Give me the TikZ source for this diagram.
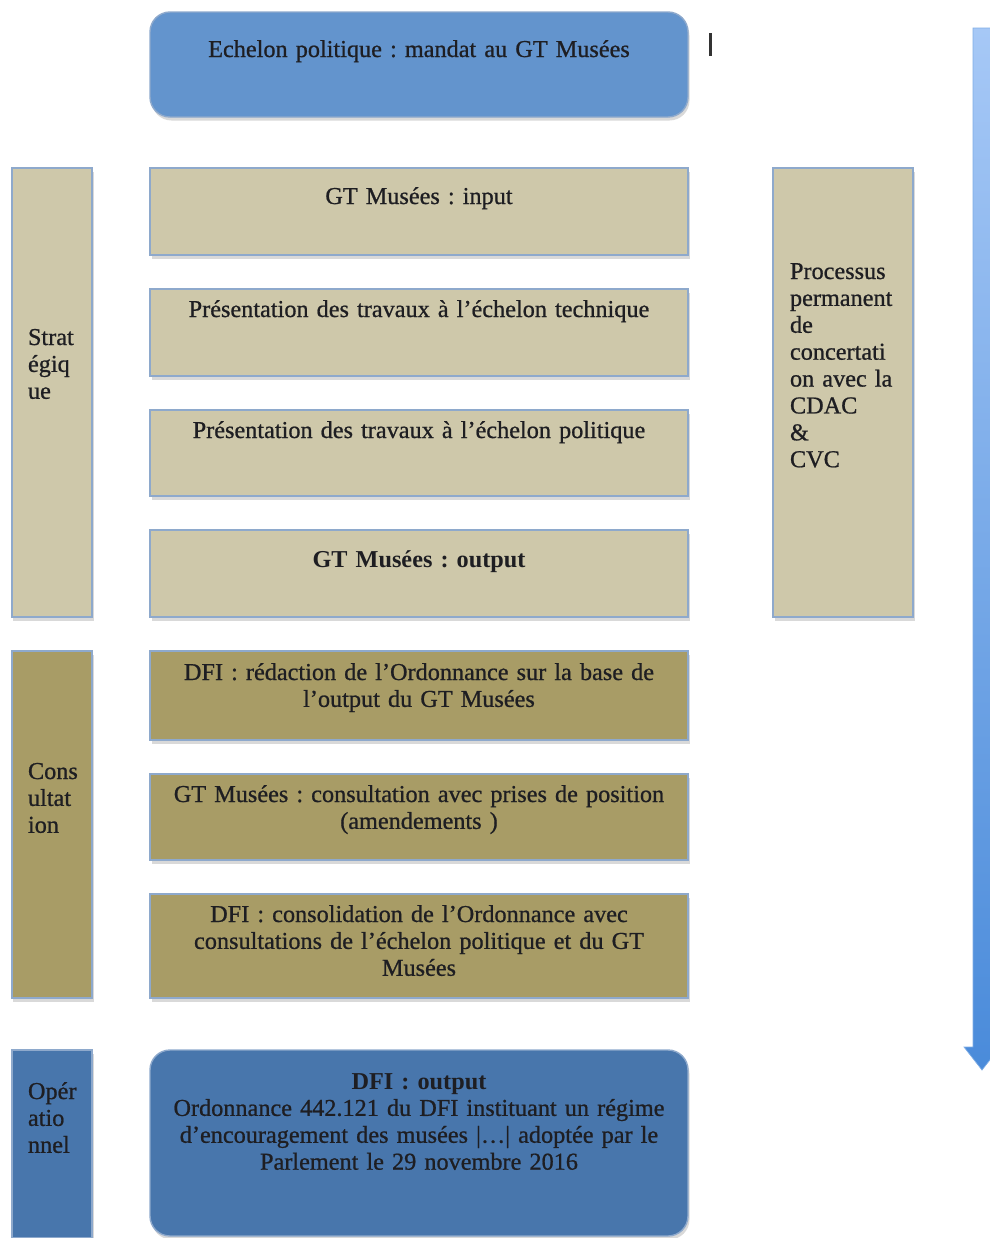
\documentclass[tikz,border=0pt]{standalone}
\usepackage{fontspec}
\setmainfont{Liberation Serif}[WordSpace=0.8, UprightFeatures={FakeBold=0.8}]
\usepackage{xcolor}
\usepackage{tikz}
\usetikzlibrary{shapes,arrows}
\usetikzlibrary{positioning,shadows}
\frenchspacing

\definecolor{topblue}{HTML}{6394CD}
\definecolor{lowblue}{HTML}{4876AC}
\definecolor{sand}{HTML}{CEC8AA}
\definecolor{khaki}{HTML}{A89C66}
\definecolor{rim}{HTML}{8EA9CC}
\definecolor{ink}{HTML}{1E1E22}
\definecolor{arrowtop}{HTML}{A6C8F6}
\definecolor{arrowbot}{HTML}{4A8BDA}

\begin{document}
\begin{tikzpicture}[node distance = 0.68cm, auto, % gap between the stacked boxes
			block/.style={
					rectangle,
					draw=rim,
					line width=0.8pt,
					outer sep=0pt,
					fill=sand,
					text=ink,
					text width=10.4cm,
					align=center,
					inner xsep=0.18cm,
					inner ysep=0pt,
					font=\fontsize{13.8}{15.3}\selectfont,
					drop shadow={shadow xshift=0.03cm, shadow yshift=-0.07cm, opacity=0.3}
				},
			side/.style={
					block,
					text width=0.96cm,
					inner xsep=0.32cm,
					align=left
				},
			tdim/.style 2 args={text height=#1, text depth=#2}
		]
		\useasboundingbox (0,0) rectangle (19.8,-24.76);
		% Place nodes
		\node [block, fill=topblue, rounded corners=0.4cm, anchor=north, tdim={0.90cm}{1.20cm}] (mandat) at (8.38,-0.24) {Echelon politique : mandat au GT Musées};
		\node [block, below=1.02cm of mandat, tdim={0.72cm}{1.02cm}] (input) {GT Musées : input};
		\node [block, below=of input, tdim={0.56cm}{1.18cm}] (technique) {Présentation des travaux à l'échelon technique};
		\node [block, below=of technique, tdim={0.56cm}{1.16cm}] (politique) {Présentation des travaux à l'échelon politique};
		\node [block, below=of politique, tdim={0.74cm}{1.00cm}] (output) {\textbf{GT Musées : output}};
		\node [block, fill=khaki, below=of output, tdim={0.58cm}{1.20cm}] (redaction) {DFI : rédaction de l'Ordonnance sur la base de\\l'output du GT Musées};
		\node [block, fill=khaki, below=of redaction, tdim={0.56cm}{1.16cm}] (consultation) {GT Musées : consultation avec prises de position\\(amendements )};
		\node [block, fill=khaki, below=of consultation, tdim={0.56cm}{1.52cm}] (consolidation) {DFI : consolidation de l'Ordonnance avec\\consultations de l'échelon politique et du GT\\Musées};
		\node [block, fill=lowblue, rounded corners=0.4cm, below=1.04cm of consolidation, tdim={0.78cm}{2.94cm}] (final) {\textbf{DFI : output}\\Ordonnance 442.121 du DFI instituant un régime\\d'encouragement des musées |…| adoptée par le\\Parlement le 29 novembre 2016};
		% Phases on the left
		\node [side, anchor=north east, tdim={3.54cm}{5.44cm}] (strat) at ([xshift=-1.16cm]input.north west) {Strat\\égiq\\ue};
		\node [side, fill=khaki, anchor=north east, tdim={2.56cm}{4.38cm}] (consult) at ([xshift=-1.16cm]redaction.north west) {Cons\\ultat\\ion};
		\node [side, fill=lowblue, anchor=north east, tdim={0.98cm}{2.78cm}] (operation) at ([xshift=-1.16cm]final.north west) {Opér\\atio\\nnel};
		% Concertation on the right
		\node [side, text width=2.12cm, inner xsep=0.34cm, anchor=north west, tdim={2.22cm}{6.76cm}] (concertation) at ([xshift=1.7cm]input.north east) {Processus\\permanent\\de\\concertati\\on avec la\\CDAC\\\&\\CVC};
		% Time arrow and stray mark
		\shade [top color=arrowtop, bottom color=arrowbot, draw=arrowbot!70, line width=0.4pt]
			(19.46,-0.56) -- (19.82,-0.56) -- (19.82,-20.94) -- (20.0,-20.94) -- (19.64,-21.4)
			-- (19.28,-20.94) -- (19.46,-20.94) -- cycle;
		\draw [line width=0.06cm, black!80] (14.2,-0.66) -- (14.2,-1.12);
	\end{tikzpicture}
\end{document}
